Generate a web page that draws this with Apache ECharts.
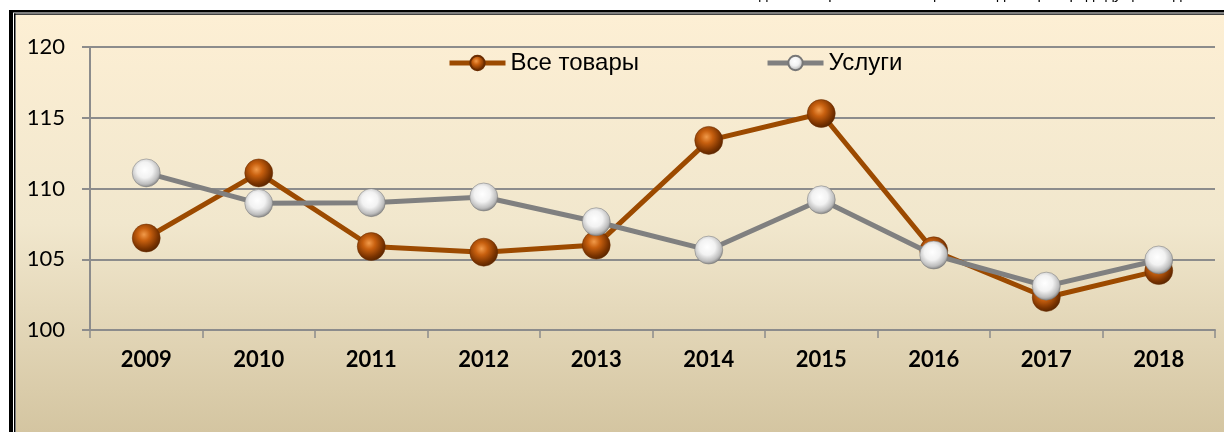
<!DOCTYPE html>
<html>
<head>
<meta charset="utf-8">
<script src="https://cdn.jsdelivr.net/npm/echarts@6/dist/echarts.min.js"></script>
<style>
html,body{margin:0;padding:0;background:#fff;}
#chart{width:1224px;height:432px;}
</style>
</head>
<body>
<div id="chart"></div>
<script>
const categories = ['2009','2010','2011','2012','2013','2014','2015','2016','2017','2018'];
const goodsName = 'Все товары';
const servicesName = 'Услуги';
const goodsValues = [106.5, 111.1, 105.9, 105.5, 106.0, 113.4, 115.3, 105.6, 102.3, 104.2];
const servicesValues = [111.1, 108.95, 109.0, 109.4, 107.65, 105.65, 109.2, 105.3, 103.1, 104.95];
const yTicks = {min: 100, max: 120, interval: 5};
const topNote = 'Индексы потребительских цен в % к декабрю предыдущего года';

const chart = echarts.init(document.getElementById('chart'));

const brownBall = {type:'radial', x:0.42, y:0.38, r:0.62, colorStops:[
  {offset:0, color:'#f19a4a'}, {offset:0.35, color:'#c8600f'}, {offset:0.8, color:'#7a3300'}, {offset:1, color:'#5a2600'}]};
const whiteBall = {type:'radial', x:0.45, y:0.4, r:0.62, colorStops:[
  {offset:0, color:'#ffffff'}, {offset:0.45, color:'#f2f2f2'}, {offset:0.8, color:'#bdbdbd'}, {offset:1, color:'#7a7a7a'}]};

chart.setOption({
  backgroundColor: '#ffffff',
  animation: false,
  graphic: [
    {type:'rect', z:-10, shape:{x:16, y:15, width:1208, height:417},
     style:{fill:{type:'linear', x:0, y:0, x2:0, y2:1, colorStops:[
       {offset:0, color:'#fdefd4'}, {offset:0.5, color:'#f1e7cd'}, {offset:1, color:'#d4c5a1'}]}}},
    {type:'rect', z:-5, shape:{x:9, y:10, width:1215, height:2.5}, style:{fill:'#000'}},
    {type:'rect', z:-5, shape:{x:14, y:13.5, width:1210, height:1.3}, style:{fill:'#000'}},
    {type:'rect', z:-5, shape:{x:9, y:10, width:4, height:422}, style:{fill:'#000'}},
    {type:'rect', z:-5, shape:{x:14, y:13.5, width:1.5, height:419}, style:{fill:'#000'}},
    {type:'text', z:-5, right:34, top:-13,
     style:{text: topNote, font:'15px "Liberation Sans"', fill:'#000'}}
  ],
  grid: {left: 90, right: 9, top: 47, bottom: 102},
  legend: {
    left: 442, top: 46,
    itemWidth: 56, itemHeight: 18, itemGap: 126,
    lineStyle: {width: 5},
    textStyle: {fontFamily:'Liberation Sans', fontSize: 24, color:'#000'},
    data: [goodsName, servicesName]
  },
  xAxis: {
    type: 'category', data: categories, boundaryGap: true,
    axisLine: {lineStyle:{color:'#8c8c8c', width:2}},
    axisTick: {show:true, length:8, lineStyle:{color:'#8c8c8c', width:1.5}},
    axisLabel: {fontFamily:'Lato', fontWeight:'bold', fontSize:22, color:'#000', margin:19}
  },
  yAxis: {
    type: 'value', min: yTicks.min, max: yTicks.max, interval: yTicks.interval,
    axisLine: {show:true, lineStyle:{color:'#8c8c8c', width:2}},
    axisTick: {show:true, length:8, lineStyle:{color:'#8c8c8c', width:2}},
    splitLine: {lineStyle:{color:'#8c8c8c', width:2}},
    axisLabel: {fontFamily:'Lato', fontSize:22, color:'#000', margin:25}
  },
  series: [
    {name: goodsName, type:'line', data: goodsValues, symbol:'circle', symbolSize:28,
     lineStyle:{color:'#9c4a00', width:5}, itemStyle:{color:brownBall, borderColor:'#6a2c00', borderWidth:0.5}, z:3},
    {name: servicesName, type:'line', data: servicesValues, symbol:'circle', symbolSize:28,
     lineStyle:{color:'#808080', width:5}, itemStyle:{color:whiteBall, borderColor:'#777', borderWidth:0.5}, z:4}
  ]
});
</script>
</body>
</html>
